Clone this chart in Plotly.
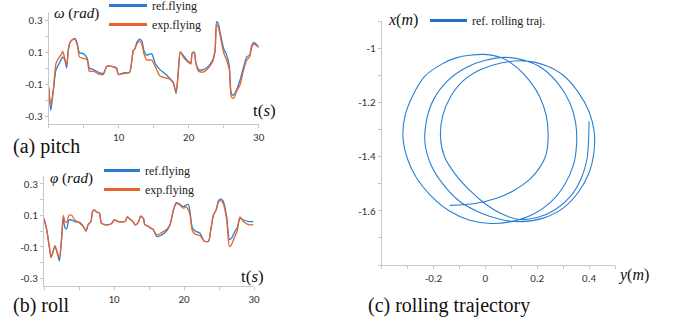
import plotly.graph_objects as go

# ---------------- data: pitch ----------------
t_pitch = [0, 0.3, 0.67, 1.05, 1.4, 1.86, 2.0, 2.3, 2.57, 2.8, 3.05, 3.5, 3.76, 4.1, 4.4, 4.95,
           5.5, 5.8, 6.4, 7.3, 7.8, 8.3, 9.0, 9.7, 9.95, 10.7, 11.4, 11.6, 12.1, 12.3, 12.6,
           12.95, 13.3, 13.6, 14.0, 14.7, 15.2, 15.9, 16.6, 17.3, 17.8, 18.2, 18.5, 18.8,
           19.2, 19.95, 20.3, 20.5, 20.8, 21.0, 21.4, 22.1, 22.8, 23.3, 23.5, 23.76, 24.0,
           24.2, 24.6, 25.0, 25.4, 25.8, 26.1, 26.4, 26.9, 27.3, 27.8, 28.3, 28.7, 29.0,
           29.3, 30.0]
pitch_ref = [-0.12, -0.265, -0.14, -0.01, 0.02, 0.06, 0.07, 0.05, 0.0, 0.11, 0.16, 0.18, 0.185,
             0.15, 0.095, 0.09, 0.06, 0.0, -0.01, -0.03, -0.035, 0.01, 0.01, 0.0, -0.04, -0.03,
             -0.03, -0.025, 0.11, 0.12, 0.16, 0.18, 0.17, 0.11, 0.08, 0.09, 0.03, -0.01, -0.035,
             -0.065, -0.09, -0.16, -0.03, 0.10, 0.08, 0.04, 0.03, 0.095, 0.10, 0.04, -0.01,
             -0.01, 0.01, 0.04, 0.06, 0.11, 0.29, 0.28, 0.20, 0.12, 0.085, 0.01, -0.16, -0.17,
             -0.13, -0.08, 0.0, 0.07, 0.08, 0.14, 0.16, 0.13]
pitch_exp = [-0.12, -0.235, -0.13, 0.03, 0.06, 0.09, 0.105, 0.06, 0.02, 0.11, 0.16, 0.18, 0.18,
             0.14, 0.07, 0.06, 0.05, -0.02, -0.02, -0.04, -0.04, 0.01, 0.01, -0.005, -0.04,
             -0.035, -0.03, -0.025, 0.11, 0.12, 0.15, 0.17, 0.15, 0.09, 0.05, 0.05, 0.01, -0.05,
             -0.06, -0.07, -0.095, -0.15, -0.03, 0.10, 0.07, 0.035, 0.025, 0.09, 0.095, 0.035,
             -0.02, -0.025, 0.0, 0.03, 0.05, 0.10, 0.27, 0.26, 0.18, 0.095, 0.05, -0.01, -0.18,
             -0.19, -0.14, -0.11, -0.02, 0.05, 0.07, 0.13, 0.15, 0.13]

# ---------------- data: roll ----------------
t_roll = [0, 0.38, 0.76, 1.0, 1.24, 1.57, 1.9, 2.2, 2.5, 2.76, 3.0, 3.24, 3.57, 3.95, 4.4, 5.1,
          5.6, 6.0, 6.3, 6.7, 6.95, 7.2, 7.5, 7.9, 8.2, 8.7, 9.2, 9.7, 10.05, 10.6, 11.1, 11.6,
          11.9, 12.3, 12.7, 13.0, 13.3, 13.6, 13.8, 14.2, 14.4, 14.9, 15.2, 15.6, 15.9, 16.1,
          16.8, 17.5, 18.0, 18.5, 18.9, 19.4, 19.9, 20.3, 20.6, 20.85, 21.2, 21.6, 22.3, 22.9,
          23.5, 23.8, 24.2, 24.6, 24.9, 25.2, 25.6, 26.1, 26.5, 26.8, 27.3, 27.6, 28.0, 28.5,
          29.2, 29.9]
roll_ref = [0.08, 0.01, -0.1, -0.165, -0.14, -0.095, -0.14, -0.19, -0.055, 0.08, 0.02, 0.015,
            0.07, 0.07, 0.06, 0.055, 0.03, 0.0, 0.04, 0.06, 0.125, 0.135, 0.12, 0.115, 0.05,
            0.04, 0.04, 0.05, 0.07, 0.06, 0.058, 0.06, 0.09, 0.075, 0.06, 0.04, 0.045, 0.07,
            0.095, 0.08, 0.04, 0.03, 0.02, 0.01, -0.02, -0.035, -0.025, 0.0, 0.04, 0.135, 0.18,
            0.17, 0.155, 0.165, 0.17, 0.125, 0.02, 0.0, -0.015, -0.065, -0.065, 0.0, 0.10,
            0.135, 0.19, 0.205, 0.19, 0.09, -0.055, -0.045, 0.0, 0.02, 0.08, 0.07, 0.06, 0.06]
roll_exp = [0.08, 0.01, -0.1, -0.17, -0.14, -0.095, -0.14, -0.17, -0.055, 0.10, 0.06, 0.055,
            0.10, 0.10, 0.07, 0.05, 0.03, 0.0, 0.04, 0.06, 0.125, 0.135, 0.12, 0.115, 0.05,
            0.04, 0.04, 0.05, 0.07, 0.06, 0.058, 0.06, 0.09, 0.075, 0.06, 0.04, 0.045, 0.07,
            0.095, 0.08, 0.04, 0.03, 0.02, 0.01, -0.015, -0.025, -0.01, 0.01, 0.04, 0.135,
            0.175, 0.165, 0.145, 0.155, 0.135, 0.105, 0.0, -0.02, -0.03, -0.065, -0.065, 0.0,
            0.10, 0.135, 0.18, 0.195, 0.175, 0.07, -0.10, -0.085, -0.03, 0.0, 0.09, 0.06, 0.04,
            0.04]

# ---------------- data: rolling trajectory (y horizontal, x vertical) ----------------
traj_y = [0.400, 0.398, 0.392, 0.37, 0.33, 0.27, 0.20, 0.13, 0.06, 0.0, -0.06, -0.12, -0.158,
          -0.173, -0.165, -0.135, -0.085, -0.02, 0.06, 0.145, 0.23, 0.30, 0.36, 0.40, 0.42,
          0.418, 0.40, 0.36, 0.30, 0.22, 0.14, 0.06, -0.02, -0.10, -0.165, -0.21, -0.233,
          -0.228, -0.20, -0.145, -0.07, 0.0, 0.074, 0.15, 0.22, 0.28, 0.325, 0.348, 0.352,
          0.34, 0.305, 0.25, 0.18, 0.10, 0.02, -0.06, -0.14, -0.21, -0.265, -0.30, -0.318,
          -0.31, -0.28, -0.235, -0.17, -0.11, -0.01, 0.06, 0.12, 0.17, 0.21, 0.235, 0.242,
          0.235, 0.21, 0.17, 0.11, 0.04, -0.04, -0.137]
traj_x = [-1.27, -1.34, -1.41, -1.48, -1.545, -1.595, -1.625, -1.632, -1.61, -1.575, -1.525,
          -1.46, -1.40, -1.33, -1.25, -1.18, -1.12, -1.08, -1.055, -1.047, -1.063, -1.10,
          -1.165, -1.235, -1.31, -1.39, -1.46, -1.53, -1.59, -1.628, -1.64, -1.632, -1.607,
          -1.565, -1.50, -1.43, -1.35, -1.27, -1.19, -1.12, -1.07, -1.045, -1.034, -1.045,
          -1.075, -1.13, -1.20, -1.275, -1.35, -1.43, -1.505, -1.57, -1.615, -1.64, -1.647,
          -1.635, -1.60, -1.545, -1.48, -1.41, -1.33, -1.25, -1.175, -1.105, -1.06, -1.035,
          -1.023, -1.035, -1.07, -1.12, -1.18, -1.25, -1.32, -1.39, -1.44, -1.485, -1.525,
          -1.555, -1.573, -1.58]

BLUE = "#2b7fd3"
ORANGE = "#e8622c"
W, H = 678, 322


def px(x):
    return x / W


def py(y):
    return 1 - y / H


fig = go.Figure()

fig.add_trace(go.Scatter(x=t_pitch, y=pitch_ref, mode="lines",
                         line=dict(color=BLUE, width=1.3, shape="spline", smoothing=0.7),
                         xaxis="x", yaxis="y", showlegend=False))
fig.add_trace(go.Scatter(x=t_pitch, y=pitch_exp, mode="lines",
                         line=dict(color=ORANGE, width=1.3, shape="spline", smoothing=0.7),
                         xaxis="x", yaxis="y", showlegend=False))
fig.add_trace(go.Scatter(x=t_roll, y=roll_ref, mode="lines",
                         line=dict(color=BLUE, width=1.3, shape="spline", smoothing=0.7),
                         xaxis="x2", yaxis="y2", showlegend=False))
fig.add_trace(go.Scatter(x=t_roll, y=roll_exp, mode="lines",
                         line=dict(color=ORANGE, width=1.3, shape="spline", smoothing=0.7),
                         xaxis="x2", yaxis="y2", showlegend=False))
fig.add_trace(go.Scatter(x=traj_y, y=traj_x, mode="lines",
                         line=dict(color=BLUE, width=1.1, shape="spline", smoothing=0.8),
                         xaxis="x3", yaxis="y3", showlegend=False))

# legend-only traces (thicker sample lines)
fig.add_trace(go.Scatter(x=[None], y=[None], mode="lines", name="ref.flying", line=dict(color=BLUE, width=3),
                         xaxis="x", yaxis="y", legend="legend"))
fig.add_trace(go.Scatter(x=[None], y=[None], mode="lines", name="exp.flying", line=dict(color=ORANGE, width=3),
                         xaxis="x", yaxis="y", legend="legend"))
fig.add_trace(go.Scatter(x=[None], y=[None], mode="lines", name="ref.flying", line=dict(color=BLUE, width=3),
                         xaxis="x2", yaxis="y2", legend="legend2"))
fig.add_trace(go.Scatter(x=[None], y=[None], mode="lines", name="exp.flying", line=dict(color=ORANGE, width=3),
                         xaxis="x2", yaxis="y2", legend="legend2"))
fig.add_trace(go.Scatter(x=[None], y=[None], mode="lines", name="ref. rolling traj.",
                         line=dict(color="#1f72c4", width=3),
                         xaxis="x3", yaxis="y3", legend="legend3"))

AXC = "#c8c8c8"
SANS = "Carlito, Calibri, 'Liberation Sans', Arial, sans-serif"
SER = "'Times New Roman', 'Liberation Serif', Tinos, 'DejaVu Serif', serif"
TICKF = dict(family=SANS, size=11, color="#333333")

common = dict(showgrid=False, zeroline=False, showline=True, linecolor=AXC, linewidth=1,
              ticks="outside", ticklen=3, tickcolor=AXC, tickfont=TICKF)
LEGF = dict(family=SER, size=12, color="#222")

fig.update_layout(
    width=W, height=H, margin=dict(l=0, r=0, t=0, b=0, autoexpand=False),
    paper_bgcolor="white", plot_bgcolor="white",
    xaxis=dict(domain=[px(48.7), px(258.7)], range=[0, 30], anchor="y",
               tickvals=[10, 20, 30], minor=dict(dtick=5, ticks="outside", ticklen=3, tickcolor=AXC),
               **common),
    yaxis=dict(domain=[py(124), py(12)], range=[-0.35, 0.35], anchor="x",
               tickvals=[-0.3, -0.1, 0.1, 0.3], ticktext=["-0.3", "-0.1", "0.1", "0.3"],
               minor=dict(dtick=0.1, ticks="outside", ticklen=3, tickcolor=AXC), **common),
    xaxis2=dict(domain=[px(44), px(254)], range=[0, 30], anchor="y2",
                tickvals=[10, 20, 30], minor=dict(dtick=5, ticks="outside", ticklen=3, tickcolor=AXC),
                **common),
    yaxis2=dict(domain=[py(286), py(176)], range=[-0.35, 0.35], anchor="x2",
                tickvals=[-0.3, -0.1, 0.1, 0.3], ticktext=["-0.3", "-0.1", "0.1", "0.3"],
                minor=dict(dtick=0.1, ticks="outside", ticklen=3, tickcolor=AXC), **common),
    xaxis3=dict(domain=[px(381.7), px(615)], range=[-0.4, 0.5], anchor="y3",
                tickvals=[-0.2, 0, 0.2, 0.4], ticktext=["-0.2", "0", "0.2", "0.4"],
                minor=dict(dtick=0.1, ticks="outside", ticklen=3, tickcolor=AXC), **common),
    yaxis3=dict(domain=[py(265), py(21)], range=[-1.8, -0.9], anchor="x3",
                tickvals=[-1.6, -1.4, -1.2, -1.0], ticktext=["-1.6", "-1.4", "-1.2", "-1"],
                minor=dict(dtick=0.1, ticks="outside", ticklen=3, tickcolor=AXC), **common),
    legend=dict(x=px(104), y=py(-9), xanchor="left", yanchor="top", bgcolor="rgba(0,0,0,0)",
                font=LEGF, tracegroupgap=0, itemwidth=38),
    legend2=dict(x=px(99), y=py(156), xanchor="left", yanchor="top", bgcolor="rgba(0,0,0,0)",
                 font=LEGF, tracegroupgap=0, itemwidth=36),
    legend3=dict(x=px(425), y=py(6), xanchor="left", yanchor="top", bgcolor="rgba(0,0,0,0)",
                 font=LEGF, itemwidth=37),
)

ann = [
    dict(text="<i>ω</i> (<i>rad</i>)", x=px(52), y=py(13), size=15),
    dict(text="<i>φ</i> (<i>rad</i>)", x=px(48), y=py(178), size=15),
    dict(text="t(<i>s</i>)", x=px(251), y=py(110), size=17),
    dict(text="t(<i>s</i>)", x=px(239), y=py(276), size=17),
    dict(text="<i>x</i>(<i>m</i>)", x=px(386), y=py(20), size=16),
    dict(text="<i>y</i>(<i>m</i>)", x=px(616), y=py(275), size=16),
    dict(text="(a) pitch", x=px(11), y=py(146), size=20),
    dict(text="(b) roll", x=px(11), y=py(305), size=20),
    dict(text="(c) rolling trajectory", x=px(366), y=py(305), size=20),
]
for a in ann:
    fig.add_annotation(text=a["text"], x=a["x"], y=a["y"], xref="paper", yref="paper",
                       xanchor="left", yanchor="middle", showarrow=False,
                       font=dict(family=SER, size=a["size"], color="#111"))

fig.write_html("out.html")
